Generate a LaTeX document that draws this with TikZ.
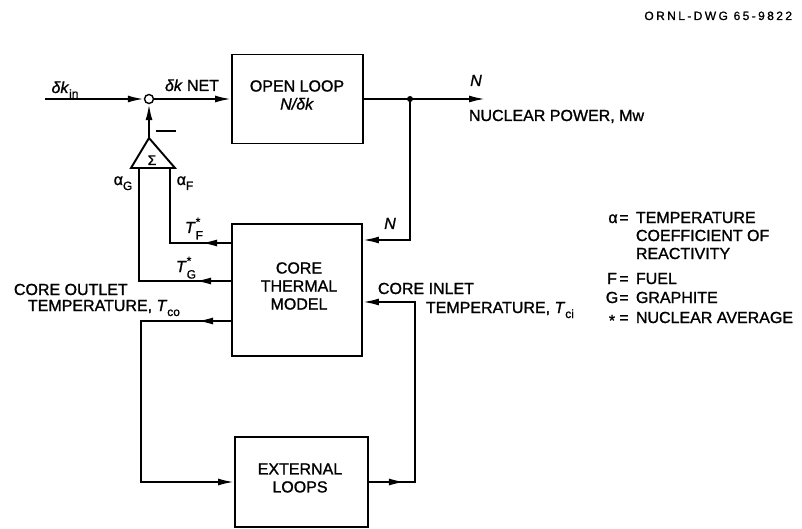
\documentclass[tikz,border=0pt]{standalone}
\usepackage{fontspec}
\setmainfont{Liberation Sans}[FakeBold=1.2]
\newfontfamily\titlefont[LetterSpace=20,FakeBold=1.2]{Liberation Sans}
\usetikzlibrary{arrows.meta,decorations.markings}
\newcommand\subsz{\fontsize{12}{12}\selectfont}
\newcommand\Tsym[2]{\textit{T}\makebox[0pt][l]{\raisebox{7pt}{\subsz #2}}\raisebox{-6.5pt}{\subsz #1}}
\newcommand\lowsub[1]{\raisebox{-5pt}{\subsz #1}}
\begin{document}
\begin{tikzpicture}[x=1pt,y=-1pt,line width=1.9pt,
  every node/.style={font=\fontsize{16}{18}\selectfont,inner sep=0pt},
  box/.style={draw,rectangle,line width=1.9pt},
  txt/.style={align=center},
  lab/.style={anchor=base},
  lft/.style={anchor=base west},
  tip/.style={-{Latex[length=16pt,width=7pt]}},
  marr/.style={postaction={decorate},decoration={markings,mark=at position #1 with {\arrow{Latex[length=16pt,width=7pt]}}}}]
\useasboundingbox (0,0) rectangle (802,529);

% title
\node[anchor=base east,font=\titlefont\fontsize{12}{12}\selectfont] (title) at (793,20) {ORNL-DWG 65-9822};

% blocks
\node[box,minimum width=131pt,minimum height=89pt] (open) at (297.5,99) {};
\node[txt] (opentxt) at (297,95) {OPEN LOOP\\\textit{N/δk}};
\node[box,minimum width=130pt,minimum height=132pt] (core) at (297,290) {};
\node[txt] (coretxt) at (299,286) {CORE\\THERMAL\\MODEL};
\node[box,minimum width=133pt,minimum height=90pt] (ext) at (301.5,482) {};
\node[txt] (exttxt) at (300,478) {EXTERNAL\\LOOPS};

% summing point and sigma
\node[circle,draw,minimum size=9pt,line width=1.4pt] (sum) at (149,99) {};
\coordinate (tA) at (149,138);
\coordinate (tL) at (131,168);
\coordinate (tR) at (175,168);
\draw[line join=miter] (tA) -- (tL) -- (tR) -- cycle;
\node[lab,font=\fontsize{14}{14}\selectfont] (sig) at (152,165) {Σ};
\node (minus) at (166,131) {\rule{20pt}{2pt}};

% forward path
\coordinate (in) at (45,99);
\draw[tip] (in) -- (sum);
\draw[tip] (sum) -- (open.west |- sum);
\node[circle,fill,minimum size=6pt] (j) at (410,99) {};
\coordinate (out) at (485,99);
\draw[tip] (open.east |- sum) -- (out);
\draw[tip] (tA) -- (sum.south);

% feedback N
\coordinate (fb) at (410,240);
\draw[tip] (j.center) -- (fb) -- (fb -| core.east);

% fuel and graphite temperatures
\coordinate (ftop) at (170,168);
\coordinate (fcor) at (170,243);
\draw[marr=30pt] (fcor -| core.west) -- (fcor) -- (ftop);
\coordinate (gtop) at (139,168);
\coordinate (gcor) at (139,281);
\draw[marr=36pt] (gcor -| core.west) -- (gcor) -- (gtop);

% core outlet loop
\coordinate (o1) at (141,321);
\coordinate (o2) at (141,482);
\draw[marr=34pt,tip] (o1 -| core.west) -- (o1) -- (o2) -- (ext.west);
% core inlet loop
\coordinate (i1) at (415,482);
\coordinate (i2) at (415,302);
\draw[marr=36pt,tip] (ext.east) -- (i1) -- (i2) -- (i2 -| core.east);

% labels
\node[lab] (dkin) at (65,93) {\textit{δk}\lowsub{in}};
\node[lab] (dknet) at (192,91) {\textit{δk} NET};
\node[lab] (ag) at (123,185) {α\lowsub{G}};
\node[lab] (af) at (185,185) {α\lowsub{F}};
\node[lab] (tf) at (194,233) {\Tsym{F}{*}};
\node[lab] (tg) at (186,272) {\Tsym{G}{*}};
\node[lab] (nout) at (476,86) {\textit{N}};
\node[lft] (np) at (468,121) {NUCLEAR POWER, Mw};
\node[lab] (nfb) at (390,229) {\textit{N}};
\node[lft] (co1) at (13,295) {CORE OUTLET};
\node[lft] (co2) at (27,311) {TEMPERATURE, \textit{T}\lowsub{co}};
\node[lft] (ci1) at (377,294) {CORE INLET};
\node[lft] (ci2) at (425,313) {TEMPERATURE, \textit{T}\lowsub{ci}};

% legend
\node[lab] (la) at (613,223) {α};
\node[lab] (lae) at (624,223) {=};
\node[lft] (lat) at (635,223) {TEMPERATURE};
\node[lft] (lat2) at (635,241) {COEFFICIENT OF};
\node[lft] (lat3) at (635,259) {REACTIVITY};
\node[lab] (lf) at (612,284) {F};
\node[lab] (lfe) at (624,284) {=};
\node[lft] (lft) at (635,284) {FUEL};
\node[lab] (lg) at (612,303) {G};
\node[lab] (lge) at (624,303) {=};
\node[lft] (lgt) at (635,303) {GRAPHITE};
\node[lab] (ls) at (612,323) {\raisebox{-3pt}{*}};
\node[lab] (lse) at (624,323) {=};
\node[lft] (lst) at (635,323) {NUCLEAR AVERAGE};
\end{tikzpicture}
\end{document}
